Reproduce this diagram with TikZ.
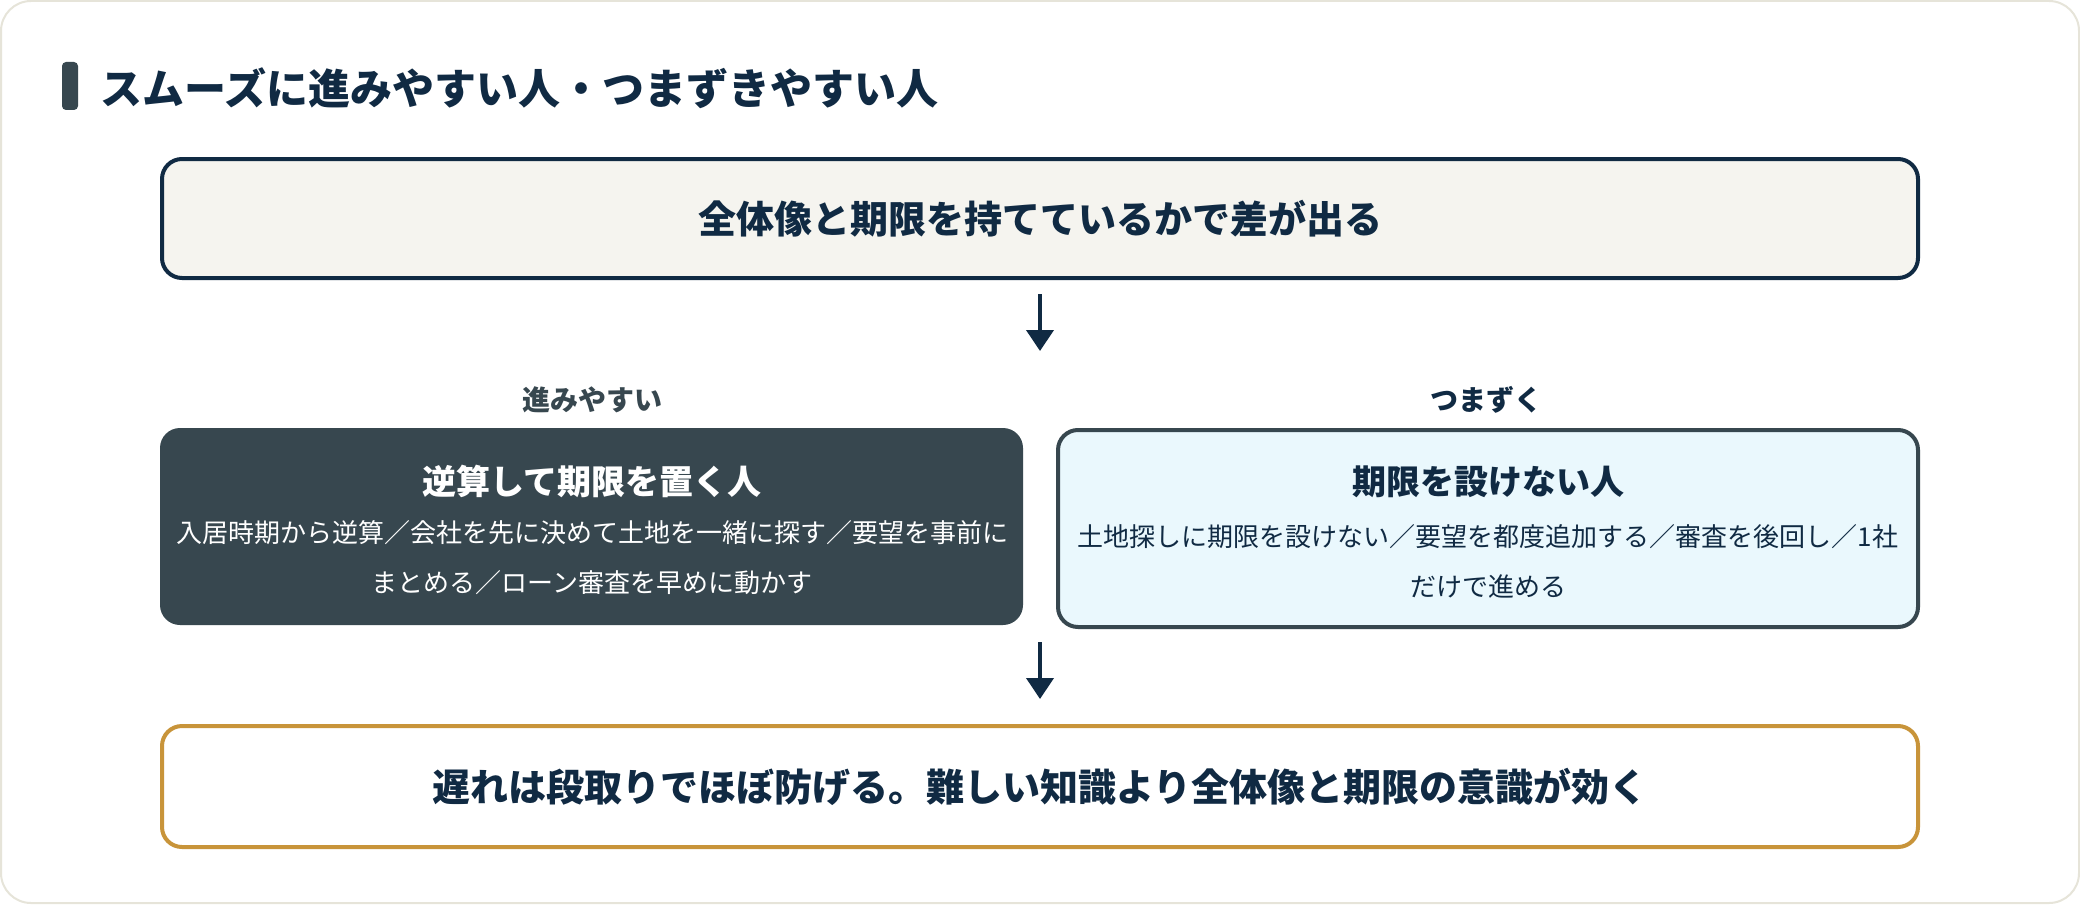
\documentclass[tikz,border=0pt]{standalone}
\usepackage{fontspec}
\setmainfont{Noto Sans CJK JP}
\usetikzlibrary{arrows.meta}
\definecolor{navy}{HTML}{102A43}
\definecolor{slate}{HTML}{37474F}
\definecolor{paper}{HTML}{F5F4EF}
\definecolor{ice}{HTML}{EAF8FD}
\definecolor{gold}{HTML}{C8943A}
\definecolor{rim}{HTML}{E6E4D9}
\begin{document}
\begin{tikzpicture}[x=0.5pt,y=-0.5pt,
  panel/.style={rounded corners=10pt,minimum width=878pt,line width=2pt,inner sep=0pt},
  card/.style={rounded corners=10pt,minimum height=98.5pt,inner sep=0pt},
  flow/.style={-{Triangle[length=10.5pt,width=13.5pt]},line width=2pt,draw=navy},
  big/.style={font=\fontsize{19pt}{23pt}\selectfont\bfseries,text=navy},
  head/.style={font=\fontsize{17pt}{20pt}\selectfont\bfseries,inner sep=0pt},
  body/.style={font=\fontsize{13pt}{25pt}\selectfont,align=center,inner sep=0pt},
  tag/.style={font=\fontsize{14pt}{17pt}\selectfont\bfseries,inner sep=0pt}]
  \useasboundingbox (0,0) rectangle (2080,904);
  \draw[rim,fill=white,line width=1pt,rounded corners=15pt] (1,1) rectangle (2079,903);
  \node(bar)[fill=slate,rounded corners=2pt,minimum width=8pt,minimum height=24pt,inner sep=0pt] at (70,86) {};
  \node(title)[anchor=west,font=\fontsize{21pt}{25pt}\selectfont\bfseries,text=navy,inner sep=0pt] at (100,88) {スムーズに進みやすい人・つまずきやすい人};
  \node(top)[panel,minimum height=59.5pt,draw=navy,fill=paper,big] at (1040,218.5) {全体像と期限を持てているかで差が出る};
  \node(easy)[tag,text=slate] at (592,400) {進みやすい};
  \node(hard)[tag,text=navy] at (1486,400) {つまずく};
  \node(good)[card,minimum width=431.5pt,fill=slate] at (591.5,526.5) {};
  \node(bad)[card,minimum width=430pt,draw=slate,line width=2pt,fill=ice] at (1488,528.5) {};
  \node(goodhead)[head,text=white] at (592,481) {逆算して期限を置く人};
  \node(goodbody)[body,text=white] at (592,558) {入居時期から逆算／会社を先に決めて土地を一緒に探す／要望を事前に\\まとめる／ローン審査を早めに動かす};
  \node(badhead)[head,text=navy] at (1488,482) {期限を設けない人};
  \node(badbody)[body,text=navy] at (1488,561) {土地探しに期限を設けない／要望を都度追加する／審査を後回し／1社\\だけで進める};
  \node(bottom)[panel,minimum height=60.5pt,draw=gold,fill=white,big] at (1040,786.5) {遅れは段取りでほぼ防げる。難しい知識より全体像と期限の意識が効く};
  \coordinate(fork) at (1040,351);
  \coordinate(merge) at (1040,642);
  \draw[flow] ([yshift=-7pt]top.south) -- (fork);
  \draw[flow] (merge) -- ([yshift=12.5pt]bottom.north);
\end{tikzpicture}
\end{document}
